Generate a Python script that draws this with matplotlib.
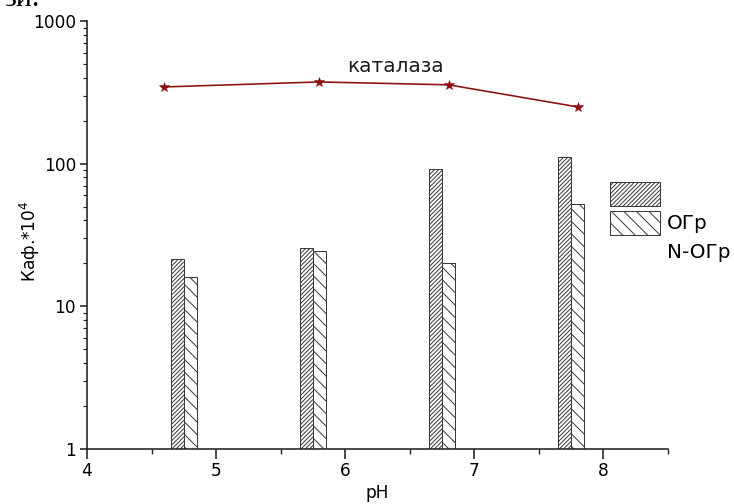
import matplotlib
matplotlib.use("Agg")
import matplotlib.pyplot as plt
from matplotlib.patches import Patch
from matplotlib.ticker import FixedLocator, NullFormatter

# data
ph_ogr = [4.7, 5.7, 6.7, 7.7]
ogr = [21.5, 25.5, 92, 112]
ph_nogr = [4.8, 5.8, 6.8, 7.8]
nogr = [16, 24.5, 20, 52]
ph_cat = [4.6, 5.8, 6.8, 7.8]
catalase = [345, 374, 357, 250]

x_ticks = [4, 5, 6, 7, 8]
y_ticks = [1, 10, 100, 1000]
y_ticklabels = ["1", "10", "100", "1000"]

DPI = 75
PX = 72.0 / DPI   # points per pixel

plt.rcParams['font.family'] = ['DejaVu Sans']
plt.rcParams['hatch.linewidth'] = 1.0 * PX

fig = plt.figure(figsize=(734 / DPI, 504 / DPI), dpi=DPI)
ax = fig.add_axes([87 / 734, 1 - 449 / 504, (668 - 87) / 734, (449 - 21) / 504])

ax.set_yscale('log')
edge = '#3a3a3a'
b1 = ax.bar(ph_ogr, ogr, width=0.1, facecolor='white', edgecolor=edge,
            hatch='//////', linewidth=1.0 * PX)
b2 = ax.bar(ph_nogr, nogr, width=0.1, facecolor='white', edgecolor=edge,
            hatch='\\\\', linewidth=1.0 * PX)

ax.plot(ph_cat, catalase, color='#8b0f0f', linewidth=1.6 * PX,
        marker='*', markersize=11 * PX, markeredgewidth=0.5)
ax.text(6.39, 480, 'каталаза', fontsize=20 * PX, ha='center', va='center',
        color='#1a1a1a')

ax.set_xlim(4, 8.5)
ax.set_ylim(1, 1000)

ax.spines['top'].set_visible(False)
ax.spines['right'].set_visible(False)
for s in ('left', 'bottom'):
    ax.spines[s].set_linewidth(1.6 * PX)
    ax.spines[s].set_color('#222222')

ax.xaxis.set_major_locator(FixedLocator(x_ticks))
ax.xaxis.set_minor_locator(FixedLocator([4.5, 5.5, 6.5, 7.5, 8.5]))
ax.yaxis.set_major_locator(FixedLocator(y_ticks))
ax.set_yticklabels(y_ticklabels)
ax.yaxis.set_minor_formatter(NullFormatter())
ax.tick_params(axis='x', which='major', length=10 * PX, width=1.6 * PX,
               labelsize=17 * PX, pad=3 * PX, color='#222222')
ax.tick_params(axis='x', which='minor', length=5 * PX, width=1.4 * PX,
               color='#222222')
ax.tick_params(axis='y', which='major', length=7 * PX, width=1.6 * PX,
               labelsize=17 * PX, pad=4 * PX, color='#222222')
ax.tick_params(axis='y', which='minor', length=4 * PX, width=1.2 * PX,
               color='#222222')

ax.set_xlabel('pH', fontsize=17 * PX)
ax.xaxis.set_label_coords(0.5, (449 - 493) / 428)
ax.xaxis.label.set_va('center')
ax.set_ylabel('Каф.*10$^4$', fontsize=17 * PX)
ax.yaxis.set_label_coords((30 - 87) / 581, (449 - 241) / 428)
ax.yaxis.label.set_va('center')

# legend as in the original: labels sit one row below their boxes
blank = Patch(facecolor='none', edgecolor='none')
leg = ax.legend([b1, b2, blank], ['', 'OГр', 'N-OГр'],
                loc='upper left', bbox_to_anchor=(610 / 734, 1 - 182 / 504),
                bbox_transform=fig.transFigure, frameon=False,
                fontsize=20 * PX, handlelength=2.5, handleheight=1.45,
                labelspacing=0.25, handletextpad=0.35, borderpad=0,
                borderaxespad=0)

# fragment of the surrounding document text at the top edge
fig.text(4 / 734, 1 - 6 / 504, 'зи.', family='Liberation Serif',
         fontsize=30 * PX, va='baseline', ha='left')

fig.savefig('out.png', dpi=DPI)
